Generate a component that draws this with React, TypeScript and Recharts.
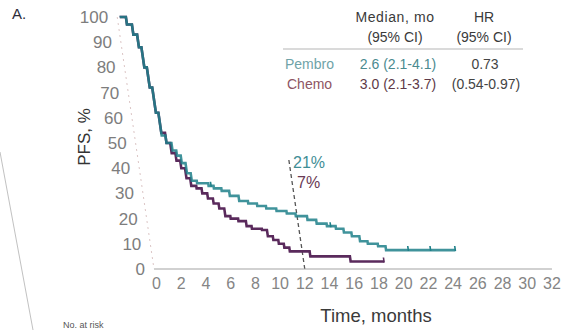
import React from 'react';
import {
  ComposedChart, Line, Scatter, XAxis, YAxis, ReferenceLine
} from 'recharts';

// Kaplan-Meier progression-free survival, months vs % (step after each event)
const pembroMonths = [0, 0.5, 0.9, 1.2, 1.4, 1.6, 1.8, 2.0, 2.3, 2.7, 3.0, 3.3, 3.6, 3.9, 4.3, 5.2, 5.6, 6.2, 6.8, 7.5, 8.2, 8.9, 9.6, 10.4, 11.2, 11.9, 12.8, 13.5, 14.3, 15.0, 15.6, 16.2, 16.8, 17.4, 18.2, 18.8, 24.4];
const pembroPfs = [100, 97, 93, 88, 80, 72, 62, 53, 50, 47, 45, 42, 38, 35, 34, 33, 32, 31, 29, 27, 26, 25, 24, 23, 22, 21, 19.5, 18, 17, 16, 14.5, 13, 11, 10, 9, 7.5, 7.5];

const chemoMonths = [0, 0.5, 0.9, 1.2, 1.4, 1.6, 1.8, 2.0, 2.3, 2.6, 2.9, 3.2, 3.5, 3.8, 4.2, 4.6, 5.0, 5.4, 5.8, 6.2, 6.6, 7.2, 7.8, 8.2, 9.0, 9.4, 9.8, 10.2, 10.6, 11.0, 12.6, 15.8, 18.5];
const chemoPfs = [100, 97, 93, 88, 80, 72, 62, 54, 50, 46, 43, 40, 36, 33, 32, 30, 28, 26, 24, 21, 20, 19, 17, 16, 15.5, 13, 11.5, 10, 8.5, 7, 5, 3, 3];

// censored observations (tick marks on the curves)
const pembroCensorMonths = [5.4, 14.6, 20.6, 22.4, 24.4];
const pembroCensorPfs = [33, 17, 7.5, 7.5, 7.5];
const chemoCensorMonths = [18.5];
const chemoCensorPfs = [3];

const xTicks = [0, 2, 4, 6, 8, 10, 12, 14, 16, 18, 20, 22, 24, 26, 28, 30, 32];
const yTicks = [0, 10, 20, 30, 40, 50, 60, 70, 80, 90, 100];

// 12-month landmark
const landmarkMonth = 12;
const pembroAt12 = 21;
const chemoAt12 = 7;

const toPoints = (ts: number[], vs: number[]) => ts.map((t, i) => ({ t, pfs: vs[i] }));

const TEAL = '#1f8089';
const PURPLE = '#5a2a5c';
const SKEW = 8.3; // the printed figure leans to the left
const FONT = '"Liberation Sans", Arial, sans-serif';

const XTick = ({ x, y, payload }: any) => (
  <g transform={`translate(${x},${y})`}>
    <text transform={`skewX(${-SKEW})`} y={20} textAnchor="middle" fill="#858585" fontSize={16} fontFamily={FONT}>
      {payload.value}
    </text>
  </g>
);

const YTick = ({ x, y, payload }: any) => (
  <g transform={`translate(${x},${y})`}>
    <text transform={`skewX(${-SKEW})`} x={-9} y={6} textAnchor="end" fill="#7d7d7d" fontSize={17} fontFamily={FONT}>
      {payload.value}
    </text>
  </g>
);

const censorTick = (color: string) => (props: any) => (
  <line x1={props.cx} x2={props.cx} y1={props.cy - 4} y2={props.cy + 1} stroke={color} strokeWidth={1.6} />
);

const App: React.FC = () => {
  const pembro = toPoints(pembroMonths, pembroPfs);
  const chemo = toPoints(chemoMonths, chemoPfs);

  return (
    <div style={{ position: 'absolute', left: 0, top: 0, width: 567, height: 330, overflow: 'hidden', background: '#fff' }}>
      <div style={{ position: 'absolute', left: 0, top: 0, transform: `skewX(${SKEW}deg)`, transformOrigin: '0px 276px' }}>
        <ComposedChart width={567} height={330} margin={{ top: 17, right: 14, bottom: 31, left: 105 }}>
          <XAxis
            type="number"
            dataKey="t"
            domain={[-0.2, 32]}
            ticks={xTicks}
            height={30}
            tickLine={false}
            tickSize={0}
            tickMargin={0}
            stroke="#a3a3a3"
            tick={<XTick />}
            allowDuplicatedCategory={false}
          />
          <YAxis
            type="number"
            domain={[0, 100]}
            ticks={yTicks}
            width={50}
            tickLine={false}
            tickSize={0}
            tickMargin={0}
            stroke="#dcc6c6"
            strokeDasharray="2 4"
            tick={<YTick />}
          />
          <ReferenceLine
            segment={[{ x: landmarkMonth, y: 0 }, { x: landmarkMonth, y: 44 }]}
            stroke="#555"
            strokeWidth={1.3}
            strokeDasharray="4 3"
          />
          <Line data={chemo} dataKey="pfs" type="stepAfter" stroke={PURPLE} strokeWidth={2.6} dot={false} isAnimationActive={false} />
          <Line data={pembro} dataKey="pfs" type="stepAfter" stroke={TEAL} strokeOpacity={0.85} strokeWidth={2.6} dot={false} isAnimationActive={false} />
          <Scatter data={toPoints(chemoCensorMonths, chemoCensorPfs)} dataKey="pfs" shape={censorTick(PURPLE)} isAnimationActive={false} />
          <Scatter data={toPoints(pembroCensorMonths, pembroCensorPfs)} dataKey="pfs" shape={censorTick(TEAL)} isAnimationActive={false} />
        </ComposedChart>
      </div>

      {/* labels, summary table and annotations */}
      <svg width={567} height={330} style={{ position: 'absolute', left: 0, top: 0, pointerEvents: 'none' }} fontFamily={FONT}>
        <line x1={0} y1={152} x2={33} y2={330} stroke="#999" strokeWidth={1} opacity={0.6} />
        <text x={12} y={19} fontSize={15} fill="#2d2d3a">A.</text>
        <text transform="translate(90,137) rotate(-90)" textAnchor="middle" fontSize={17} fill="#333">PFS, %</text>
        <text x={376} y={322} textAnchor="middle" fontSize={18.5} fill="#3a3a3a">Time, months</text>
        <text x={63} y={328} fontSize={9} fill="#555">No. at risk</text>

        <text x={395} y={22} textAnchor="middle" fontSize={14} fill="#3a3a3a" letterSpacing={0.6}>Median, mo</text>
        <text x={395} y={42} textAnchor="middle" fontSize={14} fill="#3a3a3a">(95% CI)</text>
        <text x={484} y={22} textAnchor="middle" fontSize={14} fill="#3a3a3a">HR</text>
        <text x={484} y={42} textAnchor="middle" fontSize={14} fill="#3a3a3a">(95% CI)</text>
        <line x1={283} y1={49} x2={523} y2={49} stroke="#b5b5b5" strokeWidth={1} />
        <text x={285} y={69} fontSize={14} fill="#6fa3a8">Pembro</text>
        <text x={398} y={69} textAnchor="middle" fontSize={14} fill="#4b8a90">2.6 (2.1-4.1)</text>
        <text x={485} y={69} textAnchor="middle" fontSize={14} fill="#444">0.73</text>
        <text x={287} y={89} fontSize={14} fill="#8e5563">Chemo</text>
        <text x={398} y={89} textAnchor="middle" fontSize={14} fill="#5e3a48">3.0 (2.1-3.7)</text>
        <text x={486} y={89} textAnchor="middle" fontSize={14} fill="#444">(0.54-0.97)</text>

        <text x={293} y={168} fontSize={16} fill="#3f8e96">{pembroAt12}%</text>
        <text x={297} y={188} fontSize={16} fill="#6a3a55">{chemoAt12}%</text>
      </svg>
    </div>
  );
};

export default App;
